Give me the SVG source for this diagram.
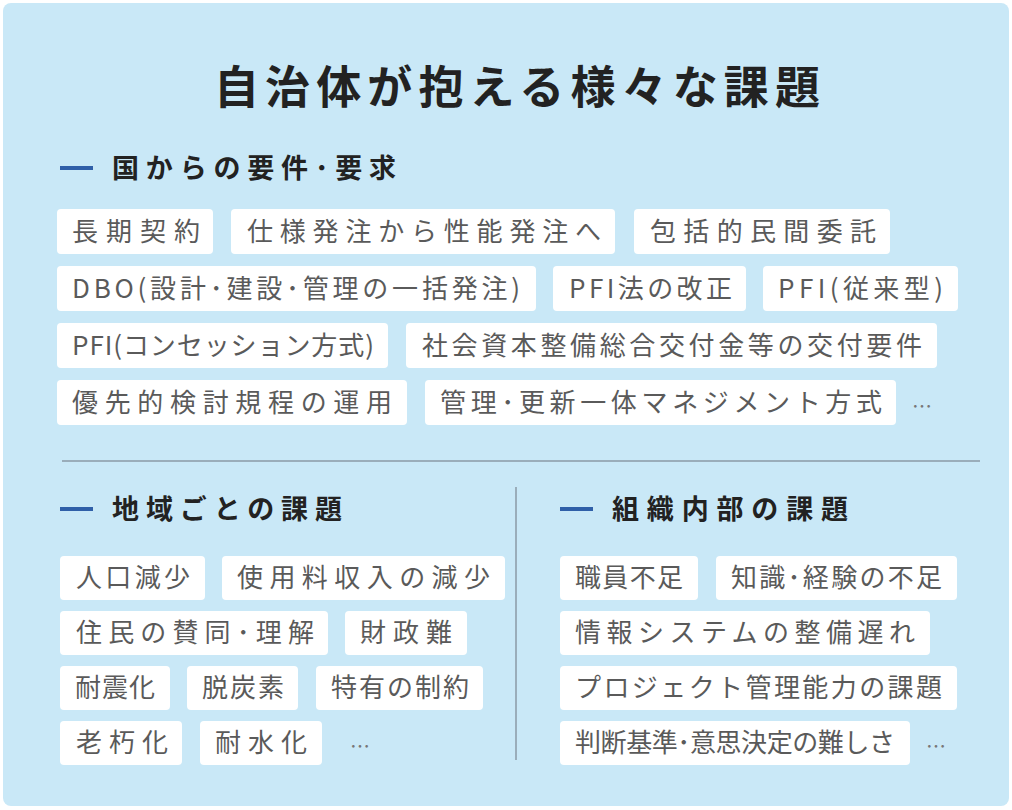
<svg xmlns="http://www.w3.org/2000/svg" width="1012" height="810" viewBox="0 0 1012 810">
<style>
.bg{fill:#c9e8f7}
.t{fill:#fff}
.tt{font-family:"Noto Sans CJK JP","Noto Sans",sans-serif;font-size:26px;fill:#5a5a5a}
.h{font-family:"Noto Sans CJK JP","Noto Sans",sans-serif;font-size:27px;font-weight:bold;fill:#222}
.d{stroke:#2f5fa8;stroke-width:4}
.dots{font-family:"Noto Sans CJK JP",sans-serif;font-size:20px;fill:#777}
</style>
<rect class="bg" x="3" y="3" width="1006" height="803" rx="8"/>
<text x="214" y="104" textLength="606" lengthAdjust="spacing" font-family="Noto Sans CJK JP,sans-serif" font-size="45" font-weight="bold" fill="#222">自治体が抱える様々な課題</text>
<g id="h1"><line class="d" x1="60" y1="168" x2="93" y2="168"/><text class="h" x="112" y="178" textLength="284" lengthAdjust="spacing">国からの要件･要求</text></g>
<g id="h2"><line class="d" x1="60" y1="509" x2="93" y2="509"/><text class="h" x="112" y="519" textLength="230" lengthAdjust="spacing">地域ごとの課題</text></g>
<g id="h3"><line class="d" x1="560" y1="509" x2="593" y2="509"/><text class="h" x="612" y="519" textLength="236" lengthAdjust="spacing">組織内部の課題</text></g>
<g id="connectors"><line x1="62" y1="461" x2="980" y2="461" stroke="#8a9aa6" stroke-width="1.5"/><line x1="516" y1="487" x2="516" y2="760" stroke="#8a9aa6" stroke-width="1.5"/></g>
<g id="tags">
<g><rect class="t" x="57" y="209" width="156" height="45" rx="4"/><text class="tt" x="72" y="241" textLength="128" lengthAdjust="spacing">長期契約</text></g>
<g><rect class="t" x="231" y="209" width="384" height="45" rx="4"/><text class="tt" x="247" y="241" textLength="354" lengthAdjust="spacing">仕様発注から性能発注へ</text></g>
<g><rect class="t" x="634" y="209" width="256" height="45" rx="4"/><text class="tt" x="650" y="241" textLength="226" lengthAdjust="spacing">包括的民間委託</text></g>
<g><rect class="t" x="57" y="266" width="479" height="45" rx="4"/><text class="tt" x="72" y="298" textLength="448" lengthAdjust="spacing">DBO(設計･建設･管理の一括発注)</text></g>
<g><rect class="t" x="553" y="266" width="193" height="45" rx="4"/><text class="tt" x="569" y="298" textLength="163" lengthAdjust="spacing">PFI法の改正</text></g>
<g><rect class="t" x="763" y="266" width="195" height="45" rx="4"/><text class="tt" x="778" y="298" textLength="165" lengthAdjust="spacing">PFI(従来型)</text></g>
<g><rect class="t" x="57" y="323" width="331" height="45" rx="4"/><text class="tt" x="72" y="355" textLength="302" lengthAdjust="spacing">PFI(コンセッション方式)</text></g>
<g><rect class="t" x="406" y="323" width="531" height="45" rx="4"/><text class="tt" x="422" y="355" textLength="500" lengthAdjust="spacing">社会資本整備総合交付金等の交付要件</text></g>
<g><rect class="t" x="57" y="380" width="350" height="45" rx="4"/><text class="tt" x="72" y="412" textLength="320" lengthAdjust="spacing">優先的検討規程の運用</text></g>
<g><rect class="t" x="425" y="380" width="471" height="45" rx="4"/><text class="tt" x="440" y="412" textLength="442" lengthAdjust="spacing">管理･更新一体マネジメント方式</text></g>
<text class="dots" x="912" y="414">…</text>
<g><rect class="t" x="60" y="556" width="145" height="44" rx="4"/><text class="tt" x="76" y="587" textLength="114" lengthAdjust="spacing">人口減少</text></g>
<g><rect class="t" x="222" y="556" width="283" height="44" rx="4"/><text class="tt" x="237" y="587" textLength="253" lengthAdjust="spacing">使用料収入の減少</text></g>
<g><rect class="t" x="60" y="611" width="268" height="44" rx="4"/><text class="tt" x="76" y="642" textLength="238" lengthAdjust="spacing">住民の賛同･理解</text></g>
<g><rect class="t" x="345" y="611" width="122" height="44" rx="4"/><text class="tt" x="360" y="642" textLength="92" lengthAdjust="spacing">財政難</text></g>
<g><rect class="t" x="60" y="666" width="110" height="44" rx="4"/><text class="tt" x="75" y="697" textLength="80" lengthAdjust="spacing">耐震化</text></g>
<g><rect class="t" x="187" y="666" width="111" height="44" rx="4"/><text class="tt" x="202" y="697" textLength="82" lengthAdjust="spacing">脱炭素</text></g>
<g><rect class="t" x="316" y="666" width="167" height="44" rx="4"/><text class="tt" x="331" y="697" textLength="138" lengthAdjust="spacing">特有の制約</text></g>
<g><rect class="t" x="60" y="721" width="122" height="44" rx="4"/><text class="tt" x="76" y="752" textLength="92" lengthAdjust="spacing">老朽化</text></g>
<g><rect class="t" x="200" y="721" width="122" height="44" rx="4"/><text class="tt" x="215" y="752" textLength="92" lengthAdjust="spacing">耐水化</text></g>
<text class="dots" x="350" y="754">…</text>
<g><rect class="t" x="560" y="556" width="138" height="44" rx="4"/><text class="tt" x="575" y="587" textLength="108" lengthAdjust="spacing">職員不足</text></g>
<g><rect class="t" x="716" y="556" width="241" height="44" rx="4"/><text class="tt" x="731" y="587" textLength="211" lengthAdjust="spacing">知識･経験の不足</text></g>
<g><rect class="t" x="560" y="611" width="370" height="44" rx="4"/><text class="tt" x="575" y="642" textLength="340" lengthAdjust="spacing">情報システムの整備遅れ</text></g>
<g><rect class="t" x="560" y="666" width="397" height="44" rx="4"/><text class="tt" x="575" y="697" textLength="367" lengthAdjust="spacing">プロジェクト管理能力の課題</text></g>
<g><rect class="t" x="560" y="721" width="350" height="44" rx="4"/><text class="tt" x="575" y="752" textLength="320" lengthAdjust="spacing">判断基準･意思決定の難しさ</text></g>
<text class="dots" x="926" y="754">…</text>
</g>
</svg>
